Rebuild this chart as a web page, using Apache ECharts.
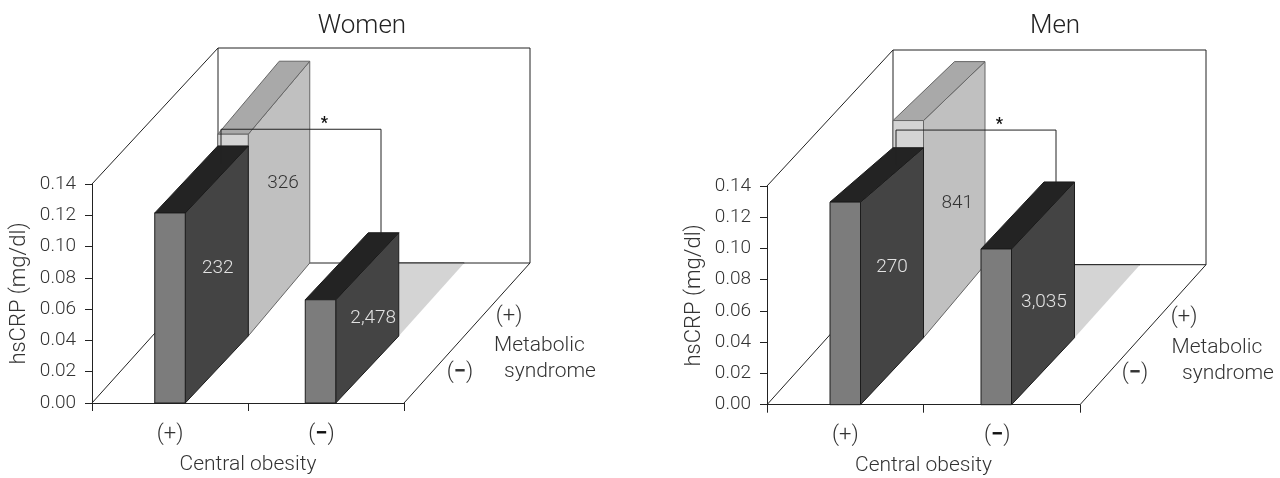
<!DOCTYPE html>
<html><head><meta charset="utf-8">
<style>html,body{margin:0;padding:0;background:#fff}#c{width:1280px;height:478px}</style>
<script src="https://cdn.jsdelivr.net/npm/echarts@6/dist/echarts.min.js"></script>
</head><body><div id="c"></div>
<script>
// ---- data ----
const obesityLevels = ['(+)', '(−)'];
const metabolicLevels = ['(+)', '(−)'];
const yTicks = {min: 0, max: 0.14, interval: 0.02};
const panelNames = ['Women', 'Men'];

// rows: metabolic (+) stands behind, metabolic (−) in front; each list = obesity (+), (−)
const womenFrontRow = [0.1215, 0.066];
const womenFrontRowRear = [0.1215, 0.066];
const womenBackRow = [0.129, 0];
const womenBackRowRear = [0.129, 0];
const womenFrontCounts = ['232', '2,478'];
const womenBackCounts = ['326', ''];

const menFrontRow = [0.1297, 0.0997];
const menFrontRowRear = [0.1216, 0.0997];
const menBackRow = [0.139, 0];
const menBackRowRear = [0.13, 0];
const menFrontCounts = ['270', '3,035'];
const menBackCounts = ['841', ''];

// significance bracket heights on the hsCRP scale: top, left end, right end
const womenBracket = [0.175, 0.1534, 0.1074];
const menBracket = [0.1758, 0.1534, 0.14];

// ---- drawing ----
const FONT = 'Roboto';
const W = 300;
const INK = '#222';
const grids = [
  {left: 92, top: 184, width: 312, height: 219},
  {left: 767, top: 186, width: 313, height: 218.7}
];
const titleX = [357, 1050];
const depth = [[0, 0], [63, -67], [124.5, -140]];
const wallDepth = [126, -140];
const wallRise = 136;
const halfBar = 15.25;
const colShift = [0, -5.5];
const colours = [
  {face: '#d4d4d4', side: '#c0c0c0', top: '#a9a9a9', flat: '#d4d4d4', edge: '#666', text: '#333'},
  {face: '#7c7c7c', side: '#444444', top: '#232323', flat: '#444', edge: '#1c1c1c', text: '#e2e2e2'}
];
const labelNudge = [
  [[[4, -15], [0, 0]], [[1, -6], [6, 0]]],
  [[[3, 7], [0, 0]], [[0, -6], [1, 9]]]
];

const minusRich = {
  p: {fontFamily: FONT, fontWeight: W, fontSize: 22, color: '#333'},
  m: {fontFamily: FONT, fontWeight: 700, fontSize: 22, color: '#111'}
};
const signText = s => s.indexOf('−') >= 0 ? '{p|(}{m|−}{p|)}' : '{p|' + s + '}';

const poly = (points, fill, stroke, lw) => ({
  type: 'polygon', shape: {points},
  style: {fill: fill, stroke: stroke, lineWidth: lw === undefined ? 1 : lw}
});
const line = (x1, y1, x2, y2) => ({
  type: 'line', shape: {x1, y1, x2, y2},
  style: {stroke: INK, lineWidth: 1, fill: null}
});
const text = (x, y, t, o) => ({
  type: 'text',
  style: Object.assign({x, y, text: t, fontFamily: FONT, fontWeight: W, fontSize: 19,
    fill: '#333', align: 'center', verticalAlign: 'middle'}, o || {})
});

function wallsSeries(idx) {
  return {
    type: 'custom', xAxisIndex: idx, yAxisIndex: idx, silent: true, clip: false, z: 2,
    encode: {x: 0, y: 1}, data: [[0, 0]],
    renderItem(params, api) {
      const x0 = api.coord([0, 0])[0] - grids[idx].width / 4;
      const x1 = x0 + grids[idx].width;
      const y0 = api.coord([0, 0])[1];
      const yTop = api.coord([0, yTicks.max])[1];
      const d = wallDepth;
      const backTop = yTop - wallRise;
      const els = [
        line(x0, yTop, x0 + d[0], backTop),
        line(x0 + d[0], backTop, x1 + d[0], backTop),
        line(x1 + d[0], backTop, x1 + d[0], y0 + d[1]),
        line(x0 + d[0], backTop, x0 + d[0], y0 + d[1]),
        line(x0 + d[0], y0 + d[1], x1 + d[0], y0 + d[1]),
        line(x0, y0, x0 + d[0], y0 + d[1]),
        line(x1, y0, x1 + d[0], y0 + d[1])
      ];
      const tx = idx === 0 ? 0 : 1;
      els.push(text(x0 + 417, y0 - 87, '{p|' + metabolicLevels[0] + '}', {rich: minusRich}));
      els.push(text(x0 + 368, y0 - 31, signText(metabolicLevels[1]), {rich: minusRich}));
      els.push(text(x0 + 402 + tx * 2.5, y0 - 57, 'Metabolic', {align: 'left', fontSize: 21}));
      els.push(text(x0 + 412 + tx * 3, y0 - 31, 'syndrome', {align: 'left', fontSize: 21}));
      return {type: 'group', children: els};
    }
  };
}

function barsSeries(idx, rows) {
  // one datum: [column, value, rearValue, row, count]
  const data = [];
  rows.forEach((r, row) => r.front.forEach((v, col) => data.push([col, v, r.rear[col], row, r.counts[col]])));
  return {
    type: 'custom', xAxisIndex: idx, yAxisIndex: idx, silent: true, clip: false, z: 3,
    encode: {x: 0, y: 1}, data,
    renderItem(params, api) {
      const col = api.value(0), v = api.value(1), rear = api.value(2), row = api.value(3);
      const count = data[params.dataIndex][4];
      const c = colours[row];
      const base = api.coord([col, 0]);
      const yF = api.coord([col, v])[1];
      const yR = api.coord([col, rear])[1];
      const xl = base[0] + colShift[col] - halfBar, xr = base[0] + colShift[col] + halfBar;
      const a = depth[1 - row], b = depth[2 - row];
      const Y = base[1];
      const fl = xl + a[0], fr = xr + a[0], bl = xl + b[0], br = xr + b[0];
      const yf0 = Y + a[1], yb0 = Y + b[1];
      const yfT = yF + a[1], ybT = yR + b[1];
      const els = [];
      if (v === 0) {
        // a zero-height bar: the floor patch whose left part sits hidden behind the front bar
        els.push(poly([[fl, yf0], [fr, yf0], [br + 4, yb0], [fl, yb0]], c.flat, null, 0));
        els.push(line(fl, yb0, br + 4, yb0));
      } else {
        els.push(poly([[fr, yfT], [br, ybT], [br, yb0], [fr, yf0]], c.side, c.edge));
        els.push(poly([[fl, yfT], [fr, yfT], [br, ybT], [bl, ybT]], c.top, c.edge));
        els.push(poly([[fl, yfT], [fr, yfT], [fr, yf0], [fl, yf0]], c.face, c.edge));
        const n = labelNudge[idx][row][col];
        els.push(text((fr + br) / 2 + n[0], (yfT + ybT + yb0 + yf0) / 4 + n[1], count, {fill: c.text}));
      }
      return {type: 'group', children: els};
    }
  };
}

function bracketSeries(idx, b) {
  return {
    type: 'custom', xAxisIndex: idx, yAxisIndex: idx, silent: true, clip: false, z: 4,
    encode: {x: 0, y: 1}, data: [[0, b[0], b[1], b[2]]],
    renderItem(params, api) {
      const x0 = api.coord([0, 0])[0] - grids[idx].width / 4;
      const xa = x0 + 129, xb = x0 + 289;
      const yt = api.coord([0, api.value(1)])[1];
      const ya = api.coord([0, api.value(2)])[1];
      const yb = api.coord([0, api.value(3)])[1];
      return {type: 'group', children: [
        line(xa, yt, xb, yt), line(xa, yt, xa, ya), line(xb, yt, xb, yb),
        text(x0 + 232.5, yt - 5, '*', {fontSize: 16, fontWeight: 700, fill: '#111'})
      ]};
    }
  };
}

const axisLine = {lineStyle: {color: INK, width: 1}};
const option = {
  animation: false,
  backgroundColor: '#fff',
  title: panelNames.map((n, i) => ({
    text: n, left: titleX[i], top: 8, textAlign: 'center',
    textStyle: {fontFamily: FONT, fontWeight: W, fontSize: 26, color: '#222'}
  })),
  grid: grids,
  xAxis: grids.map((g, i) => ({
    type: 'category', gridIndex: i, data: obesityLevels, boundaryGap: true,
    axisLine: Object.assign({onZero: false}, axisLine),
    axisTick: {show: true, length: 8, lineStyle: {color: INK}},
    splitLine: {show: false},
    axisLabel: {
      interval: 0, margin: 20, fontFamily: FONT, fontSize: 22, fontWeight: W, color: '#333',
      formatter: v => v.indexOf('−') >= 0 ? '{p|(}{m|−}{p|)}{g|}' : '{p|' + v + '}',
      rich: Object.assign({g: {width: 9}}, minusRich)
    },
    name: 'Central obesity', nameLocation: 'middle', nameGap: 51,
    nameTextStyle: {fontFamily: FONT, fontWeight: W, fontSize: 21, color: '#333'}
  })),
  yAxis: grids.map((g, i) => ({
    type: 'value', gridIndex: i, min: yTicks.min, max: yTicks.max, interval: yTicks.interval,
    axisLine: Object.assign({show: true}, axisLine),
    axisTick: {show: true, length: 7, lineStyle: {color: INK}},
    splitLine: {show: false},
    axisLabel: {margin: 16, fontFamily: FONT, fontSize: 19, fontWeight: W, color: '#333',
      formatter: v => v.toFixed(2)},
    name: 'hsCRP (mg/dl)', nameLocation: 'middle', nameGap: 62, nameRotate: 90,
    nameTextStyle: {fontFamily: FONT, fontWeight: W, fontSize: 22, color: '#333'}
  })),
  series: [
    wallsSeries(0),
    barsSeries(0, [
      {front: womenBackRow, rear: womenBackRowRear, counts: womenBackCounts},
      {front: womenFrontRow, rear: womenFrontRowRear, counts: womenFrontCounts}
    ]),
    bracketSeries(0, womenBracket),
    wallsSeries(1),
    barsSeries(1, [
      {front: menBackRow, rear: menBackRowRear, counts: menBackCounts},
      {front: menFrontRow, rear: menFrontRowRear, counts: menFrontCounts}
    ]),
    bracketSeries(1, menBracket)
  ]
};
echarts.init(document.getElementById('c'), null, {renderer: 'canvas'}).setOption(option);
</script>
</body></html>
